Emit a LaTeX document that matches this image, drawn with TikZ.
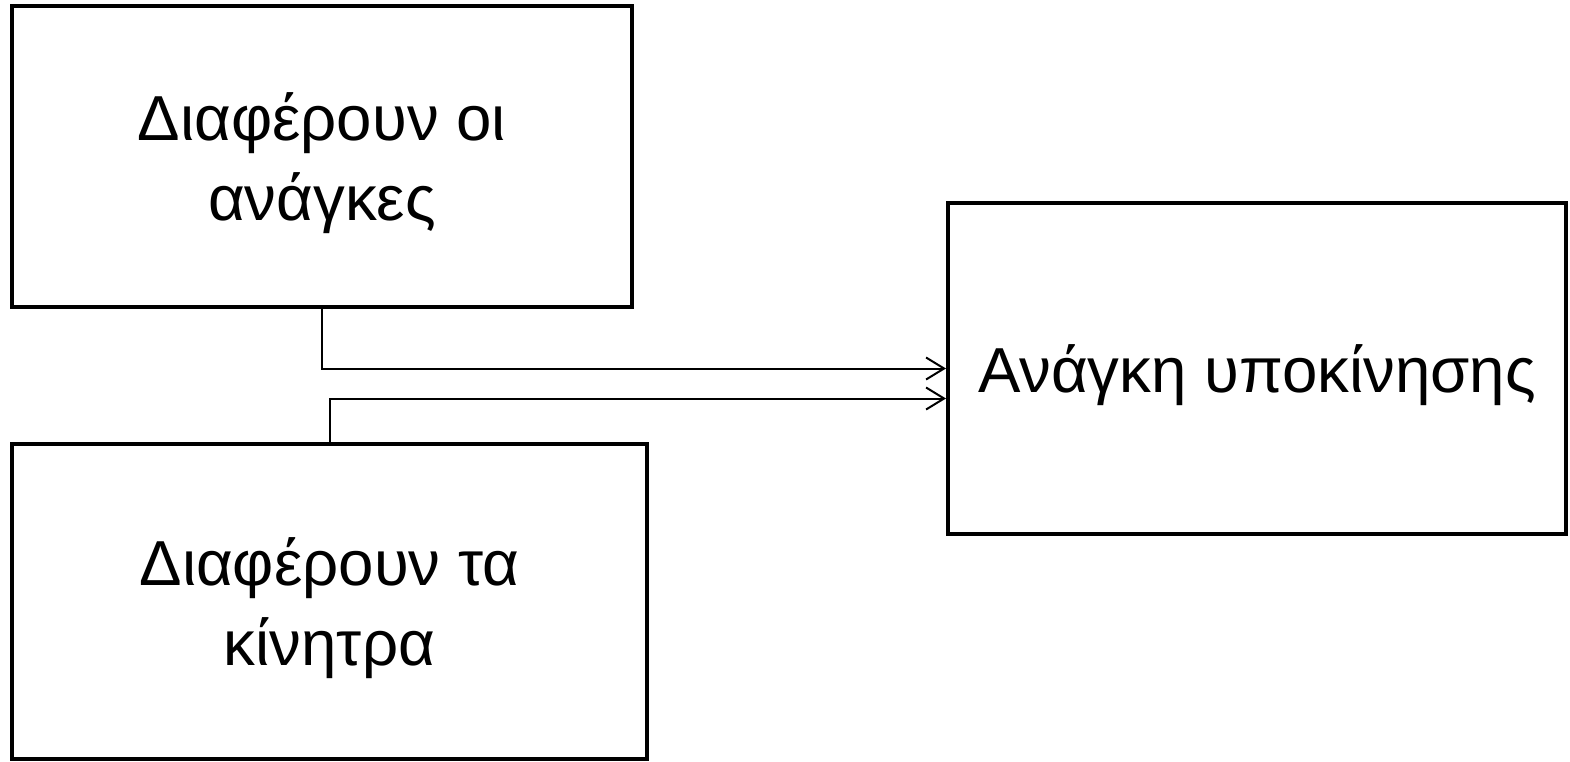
\documentclass[tikz,border=0pt]{standalone}
\usepackage{fontspec}
\setmainfont{Liberation Sans}
\usetikzlibrary{arrows.meta}
\begin{document}
\begin{tikzpicture}[x=0.5pt,y=-0.5pt,
  box/.style={draw=black,line width=2pt,inner sep=0pt,align=center,
    text depth=-1pt,font=\fontsize{31.8}{40}\selectfont},
  conn/.style={line width=1pt,-{Straight Barb[length=9pt,width=11pt,line width=1pt]}}]
\useasboundingbox (0,0) rectangle (1570,761);
\node[box,minimum width=310pt,minimum height=150.5pt] (A) at (322,156.5) {Διαφέρουν οι\\ανάγκες};
\node[box,minimum width=317.5pt,minimum height=157.5pt] (B) at (329.5,601.5) {Διαφέρουν τα\\κίνητρα};
\node[box,minimum width=309pt,minimum height=165.5pt] (C) at (1257,368.5) {Ανάγκη υποκίνησης};
\draw[conn] (A.south) |- (C.west);
\draw[conn] (B.north) |- ([yshift=-15pt]C.west);
\end{tikzpicture}
\end{document}
